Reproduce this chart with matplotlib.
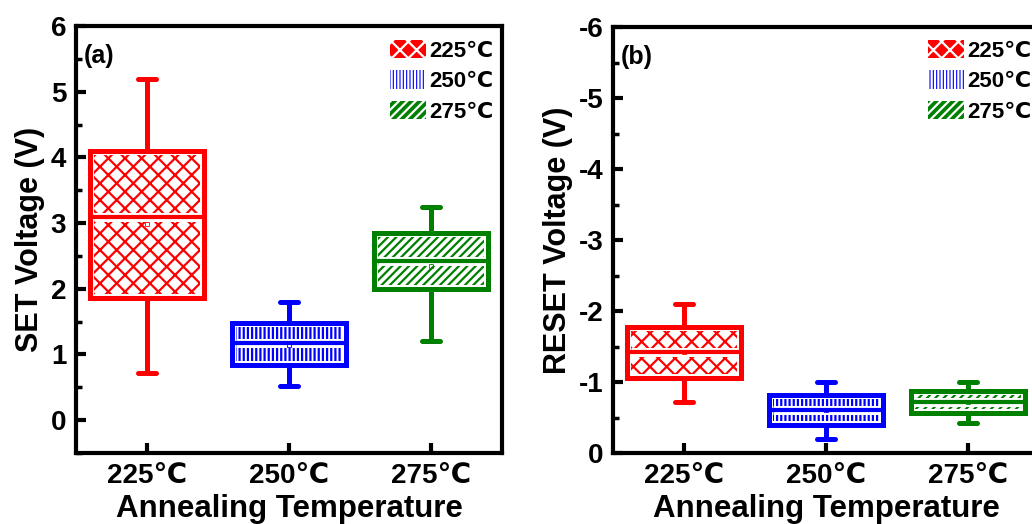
import matplotlib
matplotlib.use("Agg")
import matplotlib.pyplot as plt
from matplotlib.patches import Patch, Rectangle
from matplotlib.ticker import MultipleLocator

plt.rcParams['font.family'] = ['Liberation Sans', 'DejaVu Sans']
plt.rcParams['font.weight'] = 'bold'
plt.rcParams['hatch.linewidth'] = 1.6
plt.rcParams['axes.unicode_minus'] = False

# Annealing temperatures and their styling
temps = ["225℃", "250℃", "275℃"]
colors = ["#ff0000", "#0000ff", "#008000"]
hatches = ["xx", "||||", "////"]
legend_hatches = ["xx", "|||||", "////"]

# SET voltage statistics (V)
set_whislo = [0.72, 0.52, 1.20]
set_q1 = [1.86, 0.84, 2.00]
set_med = [3.10, 1.17, 2.42]
set_mean = [2.98, 1.15, 2.35]
set_q3 = [4.10, 1.48, 2.85]
set_whishi = [5.20, 1.80, 3.25]

# RESET voltage statistics (V)
reset_whislo = [-0.72, -0.20, -0.42]
reset_q1 = [-1.05, -0.40, -0.57]
reset_med = [-1.42, -0.60, -0.72]
reset_mean = [-1.42, -0.60, -0.72]
reset_q3 = [-1.77, -0.81, -0.87]
reset_whishi = [-2.10, -1.00, -1.00]


def make_stats(lo, q1, med, mean, q3, hi):
    return [dict(whislo=a, q1=b, med=c, mean=d, q3=e, whishi=f, fliers=[])
            for a, b, c, d, e, f in zip(lo, q1, med, mean, q3, hi)]


def draw_panel(ax, stats, ylabel, tag, ylim, yticks, leg_anchor):
    positions = [1, 2, 3]
    width = 0.8
    ax.set_xlim(0.5, 3.5)
    ax.set_ylim(*ylim)
    fig = ax.figure
    bbox = ax.get_window_extent()
    px_x = bbox.width / 3.0
    px_y = bbox.height / abs(ylim[1] - ylim[0])
    gap = 4.0  # pixels between box outline centre and hatch
    for i, st in enumerate(stats):
        c = colors[i]
        art = ax.bxp([st], positions=[positions[i]], widths=width,
                     patch_artist=True, showmeans=True, meanline=False,
                     capwidths=[0.12],
                     boxprops=dict(facecolor="white", edgecolor=c,
                                   linewidth=3.6),
                     whiskerprops=dict(color=c, linewidth=3.6),
                     capprops=dict(color=c, linewidth=3.6,
                                   solid_capstyle="round"),
                     medianprops=dict(color=c, linewidth=3.0),
                     meanprops=dict(marker="s", markersize=3,
                                    markerfacecolor="none",
                                    markeredgecolor=c, markeredgewidth=0.6))
        lo, hi = sorted([st["q1"], st["q3"]])
        dx = gap / px_x
        dy = gap / px_y
        ax.add_patch(Rectangle((positions[i] - width / 2 + dx, lo + dy),
                               width - 2 * dx, hi - lo - 2 * dy,
                               facecolor="none", edgecolor=c, linewidth=0,
                               hatch=hatches[i], zorder=2.2))
        x0 = positions[i] - width / 2 + dx
        x1 = positions[i] + width / 2 - dx
        ax.plot([x0, x1], [st["med"], st["med"]], color="white",
                lw=6.5, solid_capstyle="butt", zorder=2.5)
        for m in art["medians"]:
            m.set_zorder(3)
        for m in art["means"]:
            m.set_zorder(3.5)

    ax.set_xlim(0.5, 3.5)
    ax.set_ylim(*ylim)
    ax.set_yticks(yticks)
    ax.yaxis.set_minor_locator(MultipleLocator(0.5))
    ax.set_xticks(positions)
    ax.set_xticklabels(temps)
    ax.tick_params(axis="both", which="major", direction="in", length=7,
                   width=3, labelsize=20, pad=7)
    ax.tick_params(axis="y", which="minor", direction="in", length=4,
                   width=2.5)
    ax.tick_params(top=False, right=False)
    for sp in ax.spines.values():
        sp.set_linewidth(3)
    ax.set_xlabel("Annealing Temperature", fontsize=22.5, fontweight="bold",
                  labelpad=4)
    ax.set_ylabel(ylabel, fontsize=22, fontweight="bold")
    ax.text(0.018, 0.93, tag, transform=ax.transAxes, fontsize=18,
            fontweight="bold", va="center", ha="left")

    handles = [Patch(facecolor=colors[i], edgecolor="white", linewidth=0,
                     hatch=legend_hatches[i]) for i in range(3)]
    ax.legend(handles, temps, loc="upper left", bbox_to_anchor=leg_anchor,
              bbox_transform=fig.transFigure, frameon=False,
              handlelength=1.6, handleheight=0.9,
              handletextpad=0.15, labelspacing=0.38, borderpad=0,
              borderaxespad=0, prop=dict(size=16, weight="bold"))


fig = plt.figure(figsize=(10.32, 5.24), dpi=100)
ax1 = fig.add_axes([76 / 1032, 1 - 453 / 524, 426 / 1032, 427 / 524])
ax2 = fig.add_axes([613 / 1032, 1 - 453 / 524, 426 / 1032, 426 / 524])

draw_panel(ax1,
           make_stats(set_whislo, set_q1, set_med, set_mean, set_q3, set_whishi),
           "SET Voltage (V)", "(a)", (-0.5, 6), [0, 1, 2, 3, 4, 5, 6],
           (390 / 1032, 1 - 40 / 524))
draw_panel(ax2,
           make_stats(reset_whislo, reset_q1, reset_med, reset_mean,
                      reset_q3, reset_whishi),
           "RESET Voltage (V)", "(b)", (0, -6), [0, -1, -2, -3, -4, -5, -6],
           (928 / 1032, 1 - 40 / 524))

fig.savefig("out.png", dpi=100)
